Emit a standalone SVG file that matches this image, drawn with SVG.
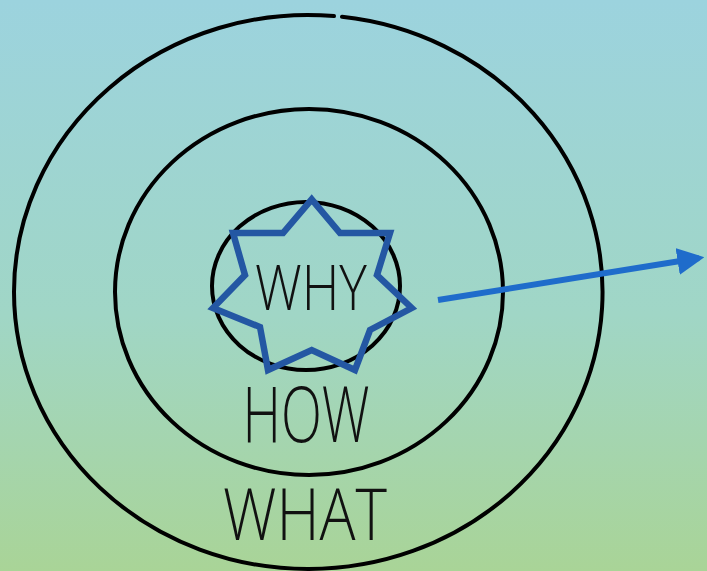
<svg xmlns="http://www.w3.org/2000/svg" width="707" height="571" viewBox="0 0 707 571">
  <defs>
    <linearGradient id="bg" x1="0" y1="0" x2="0" y2="1">
      <stop offset="0" stop-color="#9cd3de"/>
      <stop offset="0.55" stop-color="#a0d6c6"/>
      <stop offset="1" stop-color="#a9d497"/>
    </linearGradient>
    <marker id="arrowhead" viewBox="0 0 10 10" refX="8" refY="5" markerWidth="4.5" markerHeight="4.5" orient="auto" markerUnits="strokeWidth">
      <path d="M0,0 L10,5 L0,10 Z" fill="#1f6ccb"/>
    </marker>
  </defs>
  <style>
    .ring { fill: none; stroke: #000; stroke-width: 4; stroke-linecap: round; }
    .label { font-family: "Open Sans", "Liberation Sans", sans-serif; font-weight: 300; fill: #111; text-anchor: middle; }
    .star { fill: none; stroke: #2457a3; stroke-width: 6.5; stroke-linejoin: miter; }
    .arrow { stroke: #1f6ccb; stroke-width: 6; fill: none; }
  </style>
  <rect x="0" y="0" width="707" height="571" fill="url(#bg)"/>

  <g id="what">
    <path class="ring" d="M 342 16.80 A 294 277 0 0 1 308 569 A 294 277 0 0 1 14 292 A 294 277 0 0 1 334 16.10"/>
    <text class="label" x="305" y="540" font-size="72" textLength="164" lengthAdjust="spacingAndGlyphs">WHAT</text>
  </g>

  <g id="how">
    <ellipse class="ring" cx="309" cy="292" rx="194" ry="183"/>
    <text class="label" x="306" y="442" font-size="78" textLength="127" lengthAdjust="spacingAndGlyphs">HOW</text>
  </g>

  <g id="why">
    <ellipse class="ring" cx="306" cy="286" rx="94" ry="84"/>
    <polygon class="star" points="311.7,199.3 340,233 390,233 377,275 411.7,308 370,330 355,370 311.7,350 268,370 260,327 213,308 245,275 233,233 283,233"/>
    <text class="label" x="311" y="310" font-size="63" textLength="112" lengthAdjust="spacingAndGlyphs">WHY</text>
  </g>

  <g id="connectors">
    <line class="arrow" x1="438" y1="300" x2="699" y2="258" marker-end="url(#arrowhead)"/>
  </g>
</svg>
